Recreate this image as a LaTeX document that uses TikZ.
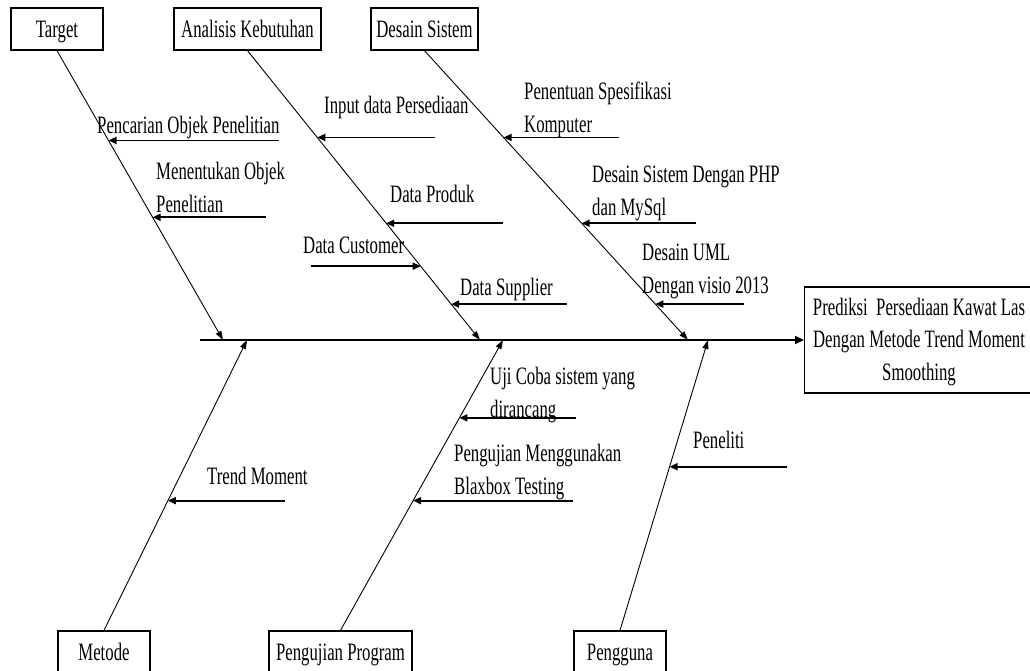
\documentclass[tikz,border=0pt]{standalone}
\usepackage{fontspec}
\setmainfont{Liberation Serif}[FakeStretch=0.67]
\usetikzlibrary{arrows.meta,calc}
\begin{document}
\begin{tikzpicture}[x=1pt,y=-1pt,
  txt/.style={font=\fontsize{25}{32.5}\selectfont, inner sep=0pt},
  lbl/.style={txt, anchor=base west, align=left},
  catbox/.style={txt, draw, line width=1.3pt, minimum height=42pt, text height=17pt, text depth=0pt},
  bone/.style={line width=0.9pt, -{Triangle[length=9pt,width=6pt]}},
  subarrow/.style={line width=1.8pt, -{Triangle[length=8pt,width=7pt]}},
  spine/.style={line width=2pt, -{Triangle[length=9pt,width=8pt]}}
]
\useasboundingbox (0,0) rectangle (1030,670);

% category boxes
\node[catbox, minimum width=92pt]  (Target)   at (57,29)    {Target};
\node[catbox, minimum width=147pt] (Analisis) at (247.5,29) {Analisis Kebutuhan};
\node[catbox, minimum width=107pt] (Desain)   at (424.5,29) {Desain Sistem};
\node[catbox, minimum width=92pt]  (Metode)   at (104,652)  {Metode};
\node[catbox, minimum width=143pt] (Uji)      at (340.5,652){Pengujian Program};
\node[catbox, minimum width=92pt]  (Pengguna) at (620,652)  {Pengguna};

% result box (runs past the right edge of the picture) and its text
\node[draw, line width=1.3pt, minimum width=250pt, minimum height=106pt, inner sep=0pt, anchor=west]
  (ResultBox) at (804,340) {};
\node[txt, align=center] (Result) at (919,342)
  {Prediksi\ \ Persediaan Kawat Las\\Dengan Metode Trend Moment\\Smoothing};

% spine
\coordinate (spL) at (200,340);
\draw[spine] (spL) -- (ResultBox.west);

% bone ends on spine
\coordinate (sT) at (223,340);
\coordinate (sA) at (480,340);
\coordinate (sD) at (688,340);
\coordinate (sM) at (247,340);
\coordinate (sP) at (503,340);
\coordinate (sU) at (708,340);

\draw[bone] (Target.south)   -- (sT);
\draw[bone] (Analisis.south) -- (sA);
\draw[bone] (Desain.south)   -- (sD);
\draw[bone] (Metode.north)   -- (sM);
\draw[bone] (Uji.north)      -- (sP);
\draw[bone] (Pengguna.north) -- (sU);

% tips of sub-arrows on the bones
\coordinate (a1t) at ($(Target.south)!{(140-50)/290}!(sT)$);
\coordinate (a2t) at ($(Target.south)!{(217-50)/290}!(sT)$);
\coordinate (b1t) at ($(Analisis.south)!{(137-50)/290}!(sA)$);
\coordinate (b2t) at ($(Analisis.south)!{(223-50)/290}!(sA)$);
\coordinate (b3t) at ($(Analisis.south)!{(266-50)/290}!(sA)$);
\coordinate (b4t) at ($(Analisis.south)!{(304-50)/290}!(sA)$);
\coordinate (c1t) at ($(Desain.south)!{(137-50)/290}!(sD)$);
\coordinate (c2t) at ($(Desain.south)!{(223-50)/290}!(sD)$);
\coordinate (c3t) at ($(Desain.south)!{(304-50)/290}!(sD)$);
\coordinate (d1t) at ($(Metode.north)!{(631-501)/291}!(sM)$);
\coordinate (e1t) at ($(Uji.north)!{(631-418)/291}!(sP)$);
\coordinate (e2t) at ($(Uji.north)!{(631-501)/291}!(sP)$);
\coordinate (f1t) at ($(Pengguna.north)!{(631-467)/291}!(sU)$);

% free ends
\coordinate (a1s) at (a1t -| 279,0);
\coordinate (a2s) at (a2t -| 266,0);
\coordinate (b1s) at (b1t -| 435,0);
\coordinate (b2s) at (b2t -| 503,0);
\coordinate (b3s) at (b3t -| 311,0);
\coordinate (b4s) at (b4t -| 567,0);
\coordinate (c1s) at (c1t -| 619,0);
\coordinate (c2s) at (c2t -| 696,0);
\coordinate (c3s) at (c3t -| 744,0);
\coordinate (d1s) at (d1t -| 285,0);
\coordinate (e1s) at (e1t -| 576,0);
\coordinate (e2s) at (e2t -| 573,0);
\coordinate (f1s) at (f1t -| 787,0);

\foreach \n in {a1,a2,b1,b2,b3,b4,c1,c2,c3,d1,e1,e2,f1}
  \draw[subarrow] (\n s) -- (\n t);

% labels (multi-line: position is the last line's baseline)
\node[lbl] (La1) at (97,133)  {Pencarian Objek Penelitian};
\node[lbl] (La2) at (156,212) {Menentukan Objek\\Penelitian};
\node[lbl] (Lb1) at (324,113) {Input data Persediaan};
\node[lbl] (Lb2) at (390,202) {Data Produk};
\node[lbl] (Lb3) at (303,253) {Data Customer};
\node[lbl] (Lb4) at (460,295) {Data Supplier};
\node[lbl] (Lc1) at (524,132) {Penentuan Spesifikasi\\Komputer};
\node[lbl] (Lc2) at (592,215) {Desain Sistem Dengan PHP\\dan MySql};
\node[lbl] (Lc3) at (642,293) {Desain UML\\Dengan visio 2013};
\node[lbl] (Ld1) at (207,484) {Trend Moment};
\node[lbl] (Le1) at (490,417) {Uji Coba sistem yang\\dirancang};
\node[lbl] (Le2) at (454,494) {Pengujian Menggunakan\\Blaxbox Testing};
\node[lbl] (Lf1) at (693,448) {Peneliti};
\end{tikzpicture}
\end{document}
